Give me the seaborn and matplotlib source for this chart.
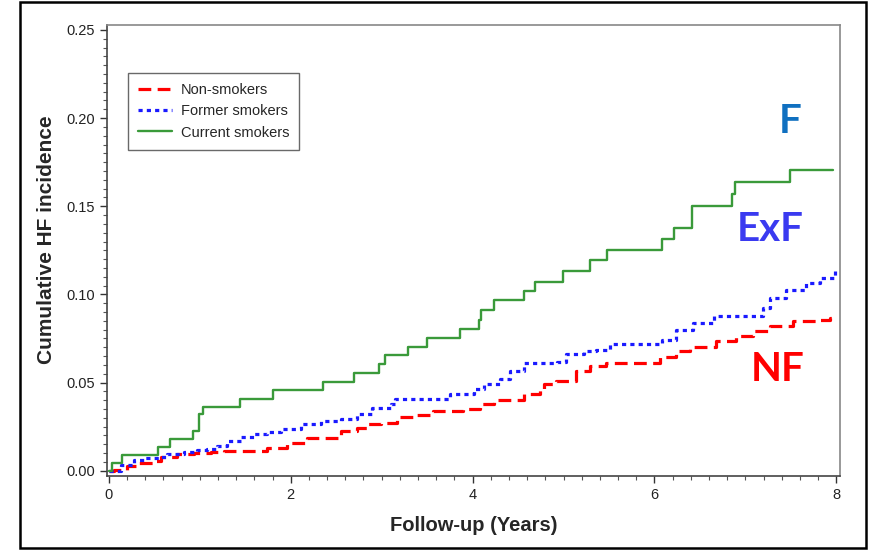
import matplotlib
matplotlib.use("Agg")
import matplotlib.pyplot as plt
import matplotlib.patches as mpatches
from matplotlib.ticker import MultipleLocator
import pandas as pd
import seaborn as sns

# ==================================================
# Daten
# ==================================================
current_t = [0, 0.04, 0.14, 0.545, 0.67, 0.925, 0.99, 1.04, 1.44, 1.80, 2.36, 2.70, 2.97, 3.04, 3.29,
             3.50, 3.86, 4.07, 4.09, 4.24, 4.56, 4.69, 4.99, 5.29, 5.48, 6.08, 6.22, 6.41, 6.85, 6.89,
             7.49, 7.96]
current_v = [0, 0.0043, 0.009, 0.0136, 0.018, 0.0226, 0.032, 0.036, 0.0407, 0.0456, 0.0503, 0.0554,
             0.0603, 0.0654, 0.070, 0.0753, 0.0806, 0.0857, 0.091, 0.097, 0.102, 0.107, 0.1134, 0.1196,
             0.125, 0.1315, 0.1375, 0.150, 0.157, 0.1635, 0.1705, 0.1705]

former_t = [0, 0.13, 0.28, 0.39, 0.55, 0.64, 0.83, 0.97, 1.08, 1.19, 1.30, 1.45, 1.60, 1.74, 1.89, 2.11,
            2.33, 2.55, 2.73, 2.89, 3.10, 3.15, 3.75, 4.01, 4.12, 4.30, 4.41, 4.56, 4.93, 5.03, 5.22,
            5.36, 5.51, 6.08, 6.24, 6.42, 6.65, 7.19, 7.27, 7.45, 7.67, 7.82, 7.98]
former_v = [0, 0.0032, 0.006, 0.007, 0.0079, 0.0094, 0.0107, 0.0117, 0.0122, 0.0141, 0.017, 0.0192,
            0.0207, 0.022, 0.0239, 0.0264, 0.0282, 0.0296, 0.0324, 0.0358, 0.038, 0.0409, 0.0433,
            0.0461, 0.0493, 0.0518, 0.0565, 0.0612, 0.0616, 0.066, 0.0678, 0.0687, 0.0719, 0.0744,
            0.08, 0.0838, 0.088, 0.0923, 0.0979, 0.1026, 0.1064, 0.1092, 0.113]

non_t = [0, 0.06, 0.2, 0.31, 0.50, 0.57, 0.75, 0.94, 1.12, 1.27, 1.74, 1.96, 2.18, 2.44, 2.55, 2.73,
         2.84, 2.99, 3.17, 3.39, 3.57, 3.90, 4.08, 4.23, 4.56, 4.74, 4.78, 4.92, 5.14, 5.29, 5.47,
         6.06, 6.24, 6.39, 6.68, 6.90, 7.08, 7.27, 7.52, 7.78, 7.93, 7.98]
non_v = [0, 0.0006, 0.0024, 0.0041, 0.0053, 0.0075, 0.0094, 0.0098, 0.0104, 0.011, 0.013, 0.016,
         0.0184, 0.0188, 0.0226, 0.024, 0.0264, 0.0273, 0.0305, 0.0316, 0.0339, 0.0348, 0.0377, 0.04,
         0.0433, 0.0461, 0.049, 0.0508, 0.0565, 0.0593, 0.0612, 0.0644, 0.068, 0.07, 0.0734, 0.0763,
         0.079, 0.0823, 0.0847, 0.0857, 0.0866, 0.0866]

groups = ["Non-smokers", "Former smokers", "Current smokers"]
x_ticks = [0, 2, 4, 6, 8]
y_ticks = [0.00, 0.05, 0.10, 0.15, 0.20, 0.25]

df = pd.concat([
    pd.DataFrame({"Years": non_t, "Incidence": non_v, "Group": groups[0]}),
    pd.DataFrame({"Years": former_t, "Incidence": former_v, "Group": groups[1]}),
    pd.DataFrame({"Years": current_t, "Incidence": current_v, "Group": groups[2]}),
], ignore_index=True)

# ==================================================
# Stil
# ==================================================
sns.set_theme(style="ticks")
plt.rcParams["font.family"] = ["Liberation Sans", "DejaVu Sans"]

styles = {
    "Non-smokers": dict(color="#ff0000", lw=2.3, dashes=(4, 2)),
    "Former smokers": dict(color="#1a1aff", lw=2.3, dashes=(1.3, 1.3)),
    "Current smokers": dict(color="#3a9a3a", lw=1.7, dashes=None),
}

fig = plt.figure(figsize=(8.74, 5.5), dpi=100)
ax = fig.add_axes([107 / 874, 1 - 476 / 550, (840 - 107) / 874, (476 - 25) / 550])

handles = []
for g in groups:
    st = styles[g]
    sub = df[df["Group"] == g]
    kw = dict(color=st["color"], linewidth=st["lw"], drawstyle="steps-post", ax=ax, label=g)
    if st["dashes"] is not None:
        kw["dashes"] = st["dashes"]
    sns.lineplot(data=sub, x="Years", y="Incidence", estimator=None, sort=False, **kw)
    handles.append(ax.lines[-1])

ax.set_xlim(-0.02, 8.04)
ax.set_ylim(-0.003, 0.2528)
ax.set_xticks(x_ticks)
ax.set_xticklabels([str(t) for t in x_ticks])
ax.set_yticks(y_ticks)
ax.set_yticklabels([f"{t:.2f}" for t in y_ticks])
ax.xaxis.set_minor_locator(MultipleLocator(0.2))
ax.yaxis.set_minor_locator(MultipleLocator(0.005))
ax.tick_params(which="major", length=5, width=1, color="#333333", labelsize=10.5, labelcolor="#222222")
ax.tick_params(which="minor", length=3, width=0.8, color="#555555")

for side in ["top", "right"]:
    ax.spines[side].set_color("#888888")
    ax.spines[side].set_linewidth(1.2)
for side in ["left", "bottom"]:
    ax.spines[side].set_color("#444444")
    ax.spines[side].set_linewidth(1.2)

ax.set_xlabel("Follow-up (Years)", fontsize=14.5, fontweight="bold", labelpad=10)
ax.set_ylabel("Cumulative HF incidence", fontsize=15, fontweight="bold")
ax.yaxis.set_label_coords(-0.070, 0.523)

leg = ax.legend(handles=handles, labels=groups, loc="upper left", bbox_to_anchor=(0.029, 0.894),
                borderaxespad=0, fontsize=10.5, handlelength=2.3, handletextpad=0.6, frameon=True,
                fancybox=False, edgecolor="#444444", borderpad=0.7, labelspacing=0.5)
leg.get_frame().set_linewidth(1.0)

ax.text(7.49, 0.198, "F", color="#1070c0", fontsize=29, fontweight="bold",
        family=["Lato", "DejaVu Sans"], ha="center", va="center")
ax.text(7.27, 0.137, "ExF", color="#3a3af0", fontsize=29, fontweight="bold",
        family=["Lato", "DejaVu Sans"], ha="center", va="center")
ax.text(7.35, 0.0575, "NF", color="#ff0000", fontsize=29, fontweight="bold",
        family=["Lato", "DejaVu Sans"], ha="center", va="center")

# äußerer Rahmen
fig.patches.append(mpatches.Rectangle((20 / 874, 2 / 550), 846 / 874, 546 / 550,
                                      transform=fig.transFigure, fill=False,
                                      edgecolor="black", linewidth=1.8))

fig.savefig("out.png", dpi=100)
